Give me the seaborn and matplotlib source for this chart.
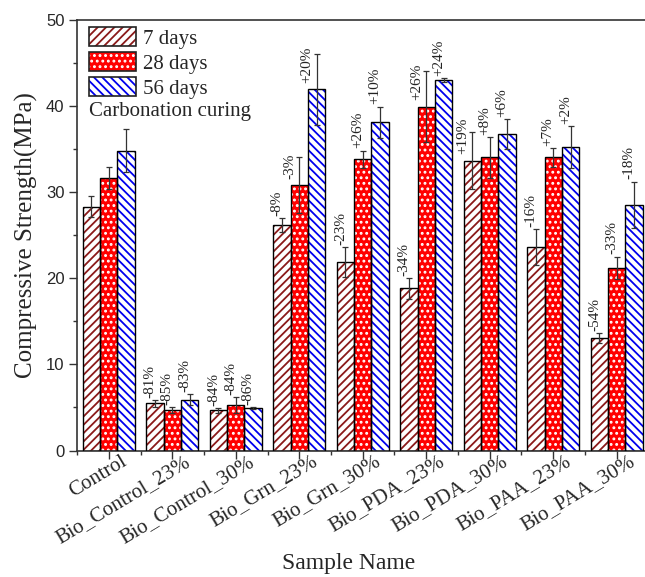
import pandas as pd
import matplotlib
matplotlib.use('Agg')
import matplotlib.pyplot as plt
import matplotlib.transforms as mtransforms
from matplotlib.patches import Patch, Rectangle
from matplotlib.ticker import MultipleLocator, FixedLocator
from matplotlib.legend_handler import HandlerTuple
import seaborn as sns

# Podaci očitani sa slike
samples = ['Control', 'Bio_Control_23%', 'Bio_Control_30%', 'Bio_Grn_23%', 'Bio_Grn_30%',
           'Bio_PDA_23%', 'Bio_PDA_30%', 'Bio_PAA_23%', 'Bio_PAA_30%']
ages = ['7 days', '28 days', '56 days']

mean_7 = [28.3, 5.5, 4.65, 26.2, 21.9, 18.8, 33.6, 23.6, 13.05]
mean_28 = [31.6, 4.65, 5.3, 30.8, 33.8, 39.9, 34.0, 34.0, 21.2]
mean_56 = [34.8, 5.9, 4.9, 41.9, 38.1, 43.0, 36.7, 35.2, 28.5]

err_7 = [1.2, 0.4, 0.3, 0.8, 1.75, 1.2, 3.3, 2.1, 0.6]
err_28 = [1.3, 0.35, 0.9, 3.2, 1.0, 4.1, 2.4, 1.1, 1.3]
err_56 = [2.5, 0.6, 0.1, 4.1, 1.8, 0.2, 1.7, 2.4, 2.7]

pct_7 = ['', '-81%', '-84%', '-8%', '-23%', '-34%', '+19%', '-16%', '-54%']
pct_28 = ['', '-85%', '-84%', '-3%', '+26%', '+26%', '+8%', '+7%', '-33%']
pct_56 = ['', '-83%', '-86%', '+20%', '+10%', '+24%', '+6%', '+2%', '-18%']

means = [mean_7, mean_28, mean_56]
errs = [err_7, err_28, err_56]
pcts = [pct_7, pct_28, pct_56]

# Stil
face_colors = ['white', '#ff0000', 'white']
hatch_colors = ['#8b1a1a', 'white', '#0000ee']
hatches = ['////', '...', '\\\\\\\\']

rows = []
for age, m in zip(ages, means):
    for s, v in zip(samples, m):
        rows.append({'Sample': s, 'Age': age, 'Strength': v})
df = pd.DataFrame(rows)

sns.set_style('ticks')
plt.rcParams['font.family'] = ['Liberation Serif', 'DejaVu Serif']
plt.rcParams['hatch.linewidth'] = 1.3
plt.rcParams['axes.linewidth'] = 1.2
plt.rcParams['axes.edgecolor'] = '#333333'

fig = plt.figure(figsize=(6.45, 5.77), dpi=100)
ax = fig.add_axes([0.1194, 0.2192, 0.886, 0.747])

sns.barplot(data=df, x='Sample', y='Strength', hue='Age', hue_order=ages, order=samples,
            errorbar=None, width=0.82, gap=0, legend=False, ax=ax,
            palette=['white', 'white', 'white'])
bar_groups = list(ax.containers)

# Šrafure i obrubi
for i, cont in enumerate(bar_groups):
    for bar in cont:
        bar.set_facecolor(face_colors[i])
        bar.set_edgecolor(hatch_colors[i])
        bar.set_hatch(hatches[i])
        bar.set_linewidth(0)
        ax.add_patch(Rectangle(bar.get_xy(), bar.get_width(), bar.get_height(),
                               fill=False, edgecolor='black', linewidth=1.0, zorder=3))

# Greške i postoci
for i, cont in enumerate(bar_groups):
    xs = [b.get_x() + b.get_width() / 2 for b in cont]
    ax.errorbar(xs, means[i], yerr=errs[i], fmt='none', ecolor='#333333',
                elinewidth=0.9, capsize=2.3, capthick=0.9, zorder=4)
    for x, m, e, p in zip(xs, means[i], errs[i], pcts[i]):
        if not p:
            continue
        if e > 3:
            y, dx = m + 0.5, -7
        else:
            y, dx = m + e, -3.6
        ax.annotate(p, xy=(x, y), xytext=(dx, 1.5), textcoords='offset points',
                    rotation=90, ha='center', va='bottom', fontsize=11, color='#222222')

ax.set_xlim(-0.5, 8.5)
ax.set_ylim(0, 50)
ax.yaxis.set_major_locator(MultipleLocator(10))
ax.yaxis.set_minor_locator(MultipleLocator(5))
ax.xaxis.set_minor_locator(FixedLocator([k + 0.5 for k in range(-1, 9)]))
ax.tick_params(axis='both', which='major', direction='out', length=5.5, width=1, color='#333333')
ax.tick_params(axis='both', which='minor', direction='out', length=3.2, width=1, color='#333333')
ax.tick_params(axis='x', which='major', pad=0)
ax.spines['right'].set_visible(True)
ax.spines['top'].set_visible(True)

for lab in ax.get_yticklabels():
    lab.set_fontfamily(['Liberation Sans', 'DejaVu Sans'])
    lab.set_fontsize(12)

ax.set_xticks(range(len(samples)))
ax.set_xticklabels(samples, fontsize=15, rotation=31, rotation_mode='anchor',
                   ha='right', va='baseline')
shift = mtransforms.ScaledTranslation(19 / 100, -6 / 100, fig.dpi_scale_trans)
for lab in ax.get_xticklabels():
    lab.set_transform(lab.get_transform() + shift)

ax.set_xlabel('Sample Name', fontsize=17)
ax.set_ylabel('Compressive Strength(MPa)', fontsize=18, labelpad=6)
ax.xaxis.set_label_coords(0.475, -0.238)

# Legenda
handles = [(Patch(facecolor=face_colors[i], edgecolor=hatch_colors[i], hatch=hatches[i], linewidth=0),
            Patch(fill=False, edgecolor='#222222', linewidth=1.2)) for i in range(3)]
ax.legend(handles, ages, loc='upper left', bbox_to_anchor=(0.021, 0.983), frameon=False,
          fontsize=15, borderpad=0, borderaxespad=0, handlelength=2.26, handleheight=1.06,
          labelspacing=0.15, handletextpad=0.32,
          handler_map={tuple: HandlerTuple(ndivide=1)})
ax.text(0.021, 0.776, 'Carbonation curing', transform=ax.transAxes, fontsize=15,
        ha='left', va='baseline')

plt.savefig('out.png', dpi=100)
